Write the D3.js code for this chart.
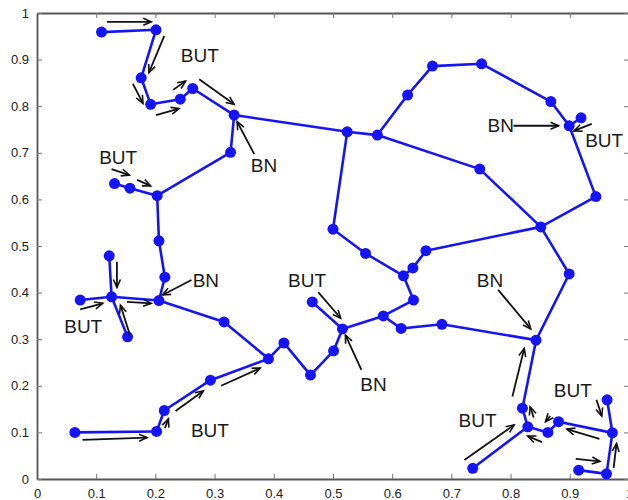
<!DOCTYPE html>
<html>
<head>
<meta charset="utf-8">
<script src="https://cdn.jsdelivr.net/npm/d3@7"></script>
<style>
  body { margin: 0; background: #fff; }
  svg { display: block; font-family: "Liberation Sans", Arial, sans-serif; }
</style>
</head>
<body>
<svg id="chart" width="628" height="500"></svg>
<script>
// node positions (x, y)
const nodeX = [0.109, 0.201, 0.176, 0.192, 0.242, 0.263, 0.333, 0.327, 0.203, 0.157,
               0.131, 0.206, 0.216, 0.206, 0.126, 0.122, 0.073, 0.153, 0.316, 0.391,
               0.417, 0.462, 0.501, 0.516, 0.465, 0.585, 0.636, 0.615, 0.684, 0.619,
               0.635, 0.657, 0.555, 0.500, 0.524, 0.575, 0.626, 0.668, 0.751, 0.868,
               0.899, 0.919, 0.944, 0.851, 0.748, 0.899, 0.843, 0.820, 0.829, 0.863,
               0.881, 0.972, 0.963, 0.962, 0.915, 0.736, 0.293, 0.215, 0.202, 0.064];
const nodeY = [0.959, 0.964, 0.861, 0.804, 0.815, 0.838, 0.781, 0.701, 0.608, 0.624,
               0.634, 0.511, 0.433, 0.383, 0.391, 0.479, 0.384, 0.305, 0.337, 0.258,
               0.292, 0.223, 0.275, 0.322, 0.380, 0.350, 0.384, 0.323, 0.332, 0.436,
               0.453, 0.490, 0.484, 0.536, 0.745, 0.738, 0.824, 0.886, 0.891, 0.810,
               0.758, 0.775, 0.606, 0.541, 0.665, 0.440, 0.298, 0.152, 0.112, 0.100,
               0.123, 0.099, 0.170, 0.011, 0.019, 0.023, 0.212, 0.147, 0.102, 0.100];

// links between nodes (index pairs)
const links = [
  [0,1],[1,2],[2,3],[3,4],[4,5],[5,6],[6,34],[6,7],[7,8],[8,9],[9,10],[8,11],
  [11,12],[12,13],[13,14],[14,15],[14,16],[14,17],[13,18],[18,19],[19,20],[20,21],
  [21,22],[22,23],[23,24],[23,25],[25,26],[25,27],[27,28],[28,46],[26,29],[29,30],
  [30,31],[31,43],[29,32],[32,33],[33,34],[34,35],[35,36],[36,37],[37,38],[38,39],
  [39,40],[40,41],[40,42],[42,43],[35,44],[44,43],[43,45],[45,46],[46,47],[47,48],
  [48,55],[48,49],[49,50],[50,51],[51,52],[51,53],[53,54],[19,56],[56,57],[57,58],[58,59]
];

// arrows: [x1, y1, x2, y2], head at the second point
const arrows = [
  [0.118,0.981,0.193,0.981],[0.215,0.951,0.189,0.872],[0.162,0.848,0.179,0.806],
  [0.230,0.835,0.251,0.854],[0.201,0.781,0.240,0.795],[0.274,0.858,0.333,0.804],
  [0.367,0.697,0.338,0.767],[0.126,0.665,0.156,0.652],[0.169,0.642,0.192,0.629],
  [0.135,0.466,0.135,0.411],[0.073,0.364,0.111,0.377],[0.157,0.309,0.141,0.373],
  [0.152,0.380,0.193,0.377],[0.261,0.427,0.212,0.395],[0.077,0.084,0.186,0.089],
  [0.216,0.109,0.222,0.129],[0.234,0.146,0.281,0.189],[0.311,0.200,0.377,0.238],
  [0.475,0.401,0.513,0.345],[0.548,0.234,0.521,0.309],[0.779,0.406,0.834,0.322],
  [0.803,0.177,0.823,0.280],[0.722,0.041,0.806,0.116],[0.839,0.132,0.833,0.155],
  [0.867,0.135,0.859,0.123],[0.853,0.079,0.829,0.092],[0.950,0.086,0.895,0.107],
  [0.945,0.170,0.954,0.135],[0.910,0.043,0.951,0.038],[0.974,0.024,0.979,0.076],
  [0.805,0.758,0.881,0.758],[0.937,0.762,0.907,0.747]
];

// annotation texts and where they start (left, baseline)
const labelText = ["BUT","BN","BUT","BN","BUT","BUT","BUT","BN","BN","BUT","BUT","BN","BUT"];
const labelX = [0.243, 0.361, 0.105, 0.263, 0.046, 0.260, 0.424, 0.546, 0.743, 0.712, 0.873, 0.761, 0.926];
const labelY = [0.895, 0.658, 0.675, 0.411, 0.314, 0.091, 0.411, 0.189, 0.413, 0.111, 0.177, 0.745, 0.713];

const tickValues = [0, 0.1, 0.2, 0.3, 0.4, 0.5, 0.6, 0.7, 0.8, 0.9, 1];
const tickLabels = ["0","0.1","0.2","0.3","0.4","0.5","0.6","0.7","0.8","0.9","1"];

const padL = 37, padR = 629, padT = 13, padB = 479;
const blue = "#1414f5";

const svg = d3.select("#chart");
const x = d3.scaleLinear().domain([0, 1]).range([padL, padR]);
const y = d3.scaleLinear().domain([0, 1]).range([padB, padT]);
const fmt = (d, i) => tickLabels[i];

svg.append("defs").append("marker")
    .attr("id", "head")
    .attr("markerUnits", "userSpaceOnUse")
    .attr("viewBox", "-10 -5 12 10")
    .attr("markerWidth", 12)
    .attr("markerHeight", 10)
    .attr("orient", "auto")
    .append("path")
    .attr("d", "M-8,-3.5L0,0L-8,3.5")
    .attr("fill", "none")
    .attr("stroke", "#111")
    .attr("stroke-width", 1.6);

// frame with inward ticks
function styleAxis(g) {
  g.select(".domain").attr("stroke", "#555").attr("stroke-width", 1.8);
  g.selectAll(".tick line").attr("stroke", "#777").attr("stroke-width", 1);
  g.selectAll("text").attr("fill", "#222").style("font-size", "13px")
    .style("font-family", "'Liberation Sans', Arial, sans-serif");
}
svg.append("g").attr("transform", `translate(0,${padB})`)
    .call(d3.axisBottom(x).tickValues(tickValues).tickFormat(fmt).tickSizeInner(-5).tickSizeOuter(0).tickPadding(10))
    .call(styleAxis);
svg.append("g").attr("transform", `translate(0,${padT})`)
    .call(d3.axisTop(x).tickValues(tickValues).tickFormat("").tickSizeInner(-5).tickSizeOuter(0))
    .call(styleAxis);
svg.append("g").attr("transform", `translate(${padL},0)`)
    .call(d3.axisLeft(y).tickValues(tickValues).tickFormat(fmt).tickSizeInner(-5).tickSizeOuter(0).tickPadding(8))
    .call(styleAxis);
svg.append("g").attr("transform", `translate(${padR},0)`)
    .call(d3.axisRight(y).tickValues(tickValues).tickFormat("").tickSizeInner(-5).tickSizeOuter(0))
    .call(styleAxis);

// network links
svg.append("g")
  .selectAll("line")
  .data(links)
  .join("line")
    .attr("x1", d => x(nodeX[d[0]])).attr("y1", d => y(nodeY[d[0]]))
    .attr("x2", d => x(nodeX[d[1]])).attr("y2", d => y(nodeY[d[1]]))
    .attr("stroke", blue)
    .attr("stroke-width", 2.6)
    .attr("stroke-linecap", "round");

// nodes
svg.append("g")
  .selectAll("circle")
  .data(nodeX)
  .join("circle")
    .attr("cx", d => x(d))
    .attr("cy", (d, i) => y(nodeY[i]))
    .attr("r", 5.5)
    .attr("fill", blue);

// arrows
svg.append("g")
  .selectAll("line")
  .data(arrows)
  .join("line")
    .attr("x1", d => x(d[0])).attr("y1", d => y(d[1]))
    .attr("x2", d => x(d[2])).attr("y2", d => y(d[3]))
    .attr("stroke", "#111")
    .attr("stroke-width", 1.8)
    .attr("marker-end", "url(#head)");

// BUT / BN labels
svg.append("g")
  .selectAll("text")
  .data(labelText)
  .join("text")
    .attr("x", (d, i) => x(labelX[i]))
    .attr("y", (d, i) => y(labelY[i]))
    .attr("fill", "#1a1a1a")
    .style("font-size", "19px")
    .text(d => d);
</script>
</body>
</html>
